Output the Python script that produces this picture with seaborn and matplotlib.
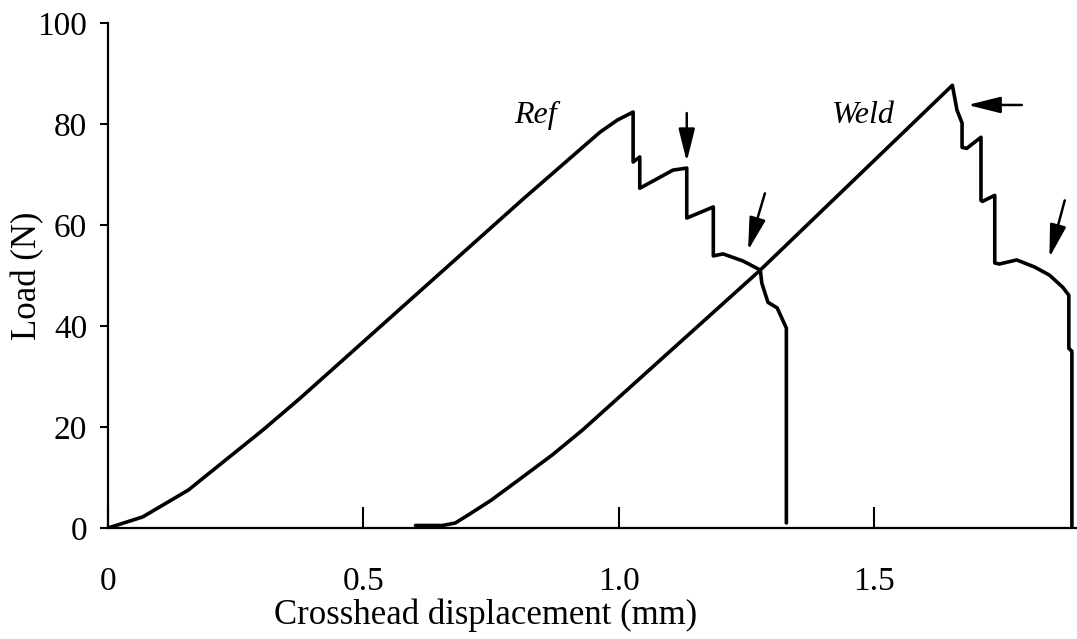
import matplotlib
matplotlib.use("Agg")
import matplotlib.pyplot as plt
import pandas as pd
import seaborn as sns

# curves (mm, N)
ref_x = [0, 0.068, 0.157, 0.303, 0.376, 0.813, 0.963, 0.997, 1.028, 1.028, 1.041, 1.041,
         1.106, 1.133, 1.133, 1.185, 1.185, 1.204, 1.243, 1.277, 1.280, 1.292, 1.310,
         1.328, 1.328]
ref_y = [0, 2.2, 7.5, 19.4, 25.7, 65.2, 78.4, 80.8, 82.4, 72.5, 73.5, 67.3,
         70.9, 71.3, 61.4, 63.6, 53.9, 54.3, 52.9, 51.1, 48.5, 44.7, 43.6,
         39.6, 1.0]

weld_x = [0.602, 0.655, 0.68, 0.707, 0.75, 0.805, 0.87, 0.93, 1.277, 1.653, 1.662,
          1.672, 1.672, 1.681, 1.709, 1.709, 1.712, 1.736, 1.736, 1.745, 1.779, 1.814,
          1.843, 1.869, 1.881, 1.881, 1.887, 1.887]
weld_y = [0.5, 0.5, 1.0, 2.7, 5.5, 9.6, 14.5, 19.5, 51.1, 87.7, 82.8,
          80.2, 75.4, 75.2, 77.4, 64.9, 64.7, 65.9, 52.5, 52.3, 53.1, 51.7,
          50.1, 47.7, 46.1, 35.6, 35.0, 0.2]

x_ticks = [0, 0.5, 1.0, 1.5]
x_tick_labels = ["0", "0.5", "1.0", "1.5"]
y_ticks = [0, 20, 40, 60, 80, 100]

# arrows: (tail x, tail y, tip x, tip y)
arrows = [
    (1.133, 82.2, 1.133, 72.6),
    (1.286, 66.3, 1.253, 55.0),
    (1.789, 83.8, 1.683, 83.8),
    (1.873, 64.9, 1.843, 53.6),
]

df = pd.concat([
    pd.DataFrame({"disp": ref_x, "load": ref_y, "specimen": "Ref"}),
    pd.DataFrame({"disp": weld_x, "load": weld_y, "specimen": "Weld"}),
])

sns.set_style("ticks")
plt.rcParams["font.family"] = ["Liberation Serif", "DejaVu Serif"]
plt.rcParams.update({"text.color": "black", "axes.labelcolor": "black",
                     "xtick.color": "black", "ytick.color": "black"})

fig = plt.figure(figsize=(10.77, 6.39), dpi=100)
ax = fig.add_axes([0.1003, 0.1737, 0.8997, 0.790])

sns.lineplot(data=df, x="disp", y="load", units="specimen", estimator=None,
             sort=False, color="black", linewidth=2.6, ax=ax, legend=False)

for x0, y0, x1, y1 in arrows:
    ax.annotate("", xy=(x1, y1), xytext=(x0, y0),
                arrowprops=dict(arrowstyle="-|>,head_length=2.0,head_width=0.5",
                                color="black", lw=1.8, shrinkA=0, shrinkB=0))

ax.text(0.836, 81.8, "Ref", fontsize=23, style="italic", ha="center", va="center")
ax.text(1.478, 81.8, "Weld", fontsize=23, style="italic", ha="center", va="center")

ax.set_xlim(0, 1.897)
ax.set_ylim(0, 100)
ax.set_xticks(x_ticks, x_tick_labels)
ax.set_yticks(y_ticks)
ax.tick_params(axis="x", direction="in", length=15, width=1.5, pad=28, labelsize=24)
ax.tick_params(axis="y", direction="out", length=6, width=1.5, pad=9, labelsize=24)
ax.set_xlabel("Crosshead displacement (mm)", fontsize=25)
ax.set_ylabel("Load (N)", fontsize=25)
ax.xaxis.set_label_coords(0.39, -0.14)
ax.yaxis.set_label_coords(-0.066, 0.5)

sns.despine(ax=ax)
for s in ("left", "bottom"):
    ax.spines[s].set_linewidth(1.6)
    ax.spines[s].set_color("black")

fig.savefig("out.png", dpi=100)
